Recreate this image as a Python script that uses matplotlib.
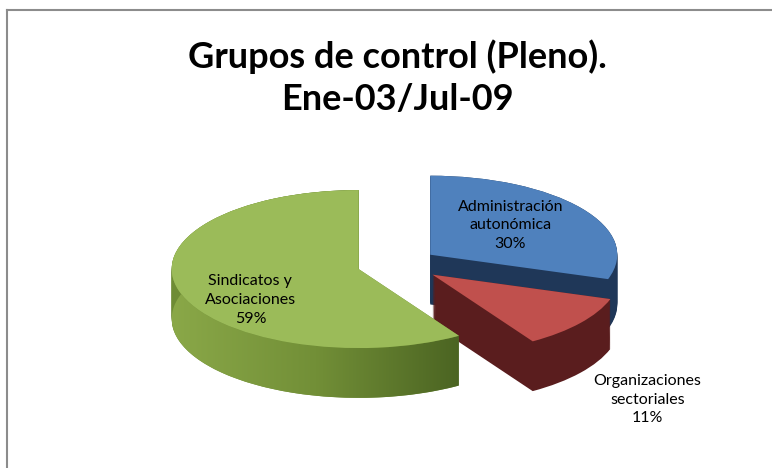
import numpy as np
import matplotlib
matplotlib.use("Agg")
import matplotlib.pyplot as plt
from matplotlib.patches import Wedge, Polygon
from matplotlib.lines import Line2D
from matplotlib.colors import LinearSegmentedColormap

# data
labels = ["Administración\nautonómica", "Organizaciones\nsectoriales", "Sindicatos y\nAsociaciones"]
values = [30, 11, 59]
title_lines = ["Grupos de control (Pleno).", "Ene-03/Jul-09"]

top_colors = ["#4f81bd", "#c0504d", "#9bbb59"]
side_colors = ["#1f3758", "#5a1d1e", "#6e8c35"]
explode = [0.2, 0.22, 0.23]
label_pos = [(0.59, 0.49), (1.324, -1.72), (-0.80, -0.455)]

plt.rcParams["font.family"] = ["Lato", "DejaVu Sans"]

W, H = 772, 468
# pixel scale of one pie radius (x) and the squashed y axis
RX, RY = 187, 79
X0, Y0 = 400, 264

fig = plt.figure(figsize=(W / 100, H / 100), dpi=100)
ax = fig.add_axes([0, 0, 1, 1])

# top faces of the pie
wedges, _ = ax.pie(values, explode=explode, colors=top_colors, startangle=90,
                   counterclock=False, wedgeprops=dict(linewidth=0))

# extrude each slice downwards by stacking darker copies
depth = 0.63
steps = np.linspace(depth, 0, 52)
for i, w in enumerate(wedges):
    w.set_zorder(2 * i + 2)
    cx, cy = w.center
    for dz in steps:
        ax.add_patch(Wedge((cx, cy - dz), w.r, w.theta1, w.theta2,
                           facecolor=side_colors[i], linewidth=0, zorder=2 * i + 1))

# shaded rim on the big slice
w = wedges[2]
cx, cy = w.center
t = np.radians(np.linspace(w.theta1, w.theta2, 300))
top = np.column_stack([cx + w.r * np.cos(t), cy + w.r * np.sin(t)])
bot = top - [0, depth]
rim = Polygon(np.vstack([top, bot[::-1]]), closed=True, transform=ax.transData)
cmap = LinearSegmentedColormap.from_list("rim", ["#8aa848", "#728f37", "#4b6422"])
grad = np.linspace(0, 1, 256).reshape(1, -1)
im = ax.imshow(grad, cmap=cmap, aspect="auto", zorder=5.5,
               extent=(top[:, 0].min(), top[:, 0].max(), cy - w.r - depth, cy + w.r))
im.set_clip_path(rim)

for lab, v, (x, y) in zip(labels, values, label_pos):
    ax.text(x, y, f"{lab}\n{v}%", ha="center", va="center", fontsize=11.5,
            linespacing=1.42, zorder=10)

ax.set_xlim(-X0 / RX, (W - X0) / RX)
ax.set_ylim((Y0 - H) / RY, Y0 / RY)
ax.set_aspect("auto")
ax.axis("off")

# two-line title, one baseline per line
for line, base in zip(title_lines, [68, 110]):
    fig.text(397 / W, 1 - base / H, line, ha="center", va="baseline",
             fontsize=26, fontweight="bold")

# chart border
fig.add_artist(Line2D([6.5 / W, 6.5 / W], [0, 1 - 9.5 / H],
                      transform=fig.transFigure, color="#8c8c8c", lw=1.5))
fig.add_artist(Line2D([6.5 / W, 1], [1 - 9.5 / H, 1 - 9.5 / H],
                      transform=fig.transFigure, color="#8c8c8c", lw=1.5))

fig.savefig("out.png", dpi=100, facecolor="white")
